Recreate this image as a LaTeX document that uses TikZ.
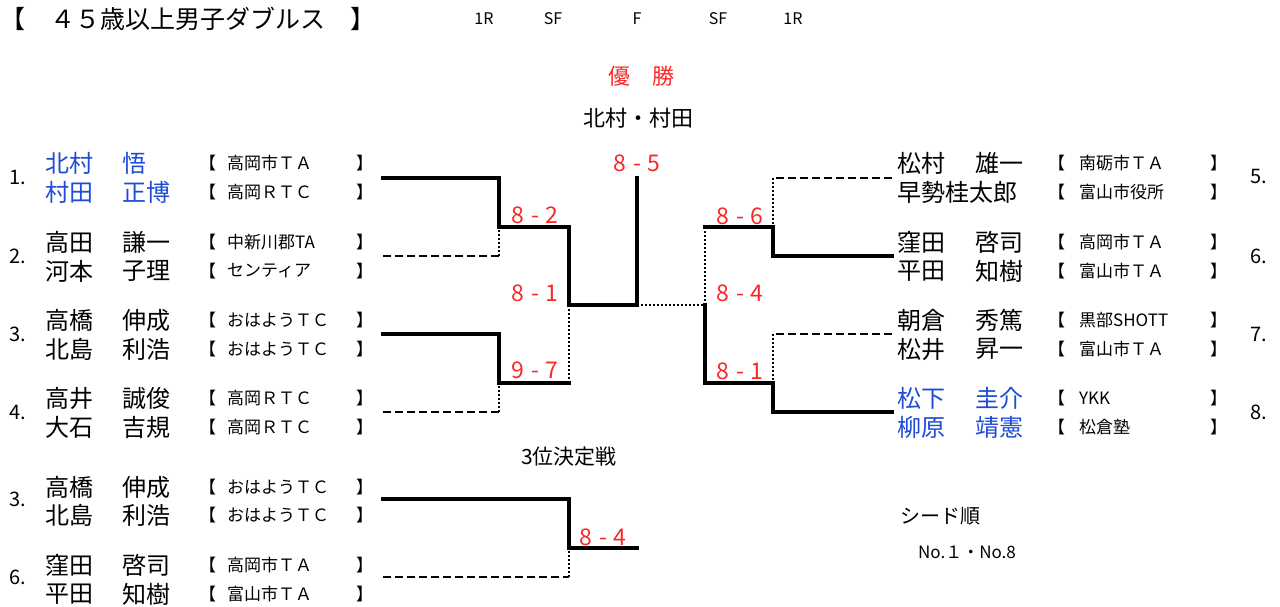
\documentclass[tikz,border=0pt]{standalone}
\usepackage{fontspec}
\setmainfont{Noto Sans CJK JP}
\definecolor{nameblue}{RGB}{30,75,215}
\definecolor{scorered}{RGB}{250,40,40}
\tikzset{
  nm/.style={anchor=west, inner sep=0pt, font=\fontsize{24}{24}\selectfont},
  tm/.style={anchor=west, inner sep=0pt, font=\fontsize{17}{17}\selectfont},
  sd/.style={inner sep=0pt, font=\fontsize{20}{20}\selectfont},
  hd/.style={inner sep=0pt, font=\fontsize{16}{16}\selectfont},
  sc/.style={inner sep=0pt, text=scorered, font=\fontsize{23}{23}\selectfont},
  win/.style={line width=4.6pt, line cap=rect},
  lose/.style={line width=2.2pt, dash pattern=on 8pt off 4pt},
  link/.style={line width=2.2pt, dash pattern=on 2pt off 2pt},
}
\newcommand\scr[2]{#1\hspace{7pt}-\hspace{7pt}#2}
\newcommand\rowL[6]{%
  \node[nm,text=#6] (#1f) at (45,#2) {#3};
  \node[nm,text=#6] (#1g) at (122,#2) {#4};
  \node[tm] (#1o) at (199,#2) {【};
  \node[tm] (#1t) at (227,#2) {#5};
  \node[tm] (#1c) at (356,#2) {】};
}
\newcommand\rowR[6]{%
  \node[nm,text=#6] (#1f) at (897,#2) {#3};
  \node[nm,text=#6] (#1g) at (975,#2) {#4};
  \node[tm] (#1o) at (1048,#2) {【};
  \node[tm] (#1t) at (1079,#2) {#5};
  \node[tm] (#1c) at (1210,#2) {】};
}
\begin{document}
\begin{tikzpicture}[x=1pt,y=-1pt]
\useasboundingbox[fill=white] (0,0) rectangle (1280,607);
% header
\node[anchor=west,inner sep=0pt,font=\fontsize{25}{25}\selectfont] (title) at (0,19) {【　４５歳以上男子ダブルス　】};
\node[hd] (h1) at (484,19) {1R};
\node[hd] (h2) at (553,19) {SF};
\node[hd] (h3) at (637,19) {F};
\node[hd] (h4) at (718,19) {SF};
\node[hd] (h5) at (793,19) {1R};
\node[inner sep=0pt,text=scorered,font=\fontsize{22}{22}\selectfont] (yusho) at (641,76) {優　勝};
\node[inner sep=0pt,font=\fontsize{22}{22}\selectfont] (champ) at (638,118) {北村・村田};
% left entries
\node[sd] (s1) at (18,178) {1.};
\rowL{a1}{163}{北村}{悟}{高岡市ＴＡ}{nameblue}
\rowL{a2}{192}{村田}{正博}{高岡ＲＴＣ}{nameblue}
\node[sd] (s2) at (18,256) {2.};
\rowL{b1}{242}{高田}{謙一}{中新川郡TA}{black}
\rowL{b2}{271}{河本}{子理}{センティア}{black}
\node[sd] (s3) at (18,334) {3.};
\rowL{c1}{320}{高橋}{伸成}{おはようＴＣ}{black}
\rowL{c2}{349}{北島}{利浩}{おはようＴＣ}{black}
\node[sd] (s4) at (18,412) {4.};
\rowL{d1}{398}{高井}{誠俊}{高岡ＲＴＣ}{black}
\rowL{d2}{427}{大石}{吉規}{高岡ＲＴＣ}{black}
\node[sd] (s3b) at (18,499) {3.};
\rowL{e1}{487}{高橋}{伸成}{おはようＴＣ}{black}
\rowL{e2}{515}{北島}{利浩}{おはようＴＣ}{black}
\node[sd] (s6b) at (18,577) {6.};
\rowL{f1}{565}{窪田}{啓司}{高岡市ＴＡ}{black}
\rowL{f2}{594}{平田}{知樹}{富山市ＴＡ}{black}
% right entries
\node[sd] (s5) at (1259,176) {5.};
\rowR{g1}{163}{松村}{雄一}{南砺市ＴＡ}{black}
\node[nm] (g2f) at (897,192) {早勢桂太郎};
\node[tm] (g2o) at (1048,192) {【};
\node[tm] (g2t) at (1079,192) {富山市役所};
\node[tm] (g2c) at (1210,192) {】};
\node[sd] (s6) at (1259,256) {6.};
\rowR{h1}{242}{窪田}{啓司}{高岡市ＴＡ}{black}
\rowR{h2}{271}{平田}{知樹}{富山市ＴＡ}{black}
\node[sd] (s7) at (1259,334) {7.};
\rowR{i1}{320}{朝倉}{秀篤}{黒部SHOTT}{black}
\rowR{i2}{349}{松井}{昇一}{富山市ＴＡ}{black}
\node[sd] (s8) at (1259,412) {8.};
\rowR{j1}{398}{松下}{圭介}{YKK}{nameblue}
\rowR{j2}{427}{柳原}{靖憲}{松倉塾}{nameblue}
% labels
\node[inner sep=0pt,font=\fontsize{21}{21}\selectfont] (third) at (569,457) {3位決定戦};
\node[inner sep=0pt,font=\fontsize{20}{20}\selectfont] (seedhd) at (940,516) {シード順};
\node[inner sep=0pt,font=\fontsize{17}{17}\selectfont] (seeds) at (967,552) {No.１・No.8};
% scores
\node[sc] (sc1) at (535,215) {\scr{8}{2}};
\node[sc] (sc2) at (535,293) {\scr{8}{1}};
\node[sc] (sc3) at (535,370) {\scr{9}{7}};
\node[sc] (sc4) at (637,163) {\scr{8}{5}};
\node[sc] (sc5) at (740,216) {\scr{8}{6}};
\node[sc] (sc6) at (740,293) {\scr{8}{4}};
\node[sc] (sc7) at (740,371) {\scr{8}{1}};
\node[sc] (sc8) at (603,537) {\scr{8}{4}};
% bracket coordinates (left)
\coordinate (L1) at (383,178); \coordinate (L1k) at (499,178);
\coordinate (L2) at (383,256); \coordinate (L2k) at (499,256);
\coordinate (M1) at (499,227); \coordinate (M1e) at (569,227);
\coordinate (L3) at (383,334); \coordinate (L3k) at (499,334);
\coordinate (L4) at (383,412); \coordinate (L4k) at (499,412);
\coordinate (M2) at (499,383); \coordinate (M2e) at (569,383);
\coordinate (S1) at (569,305); \coordinate (F1) at (637,305);
\coordinate (FT) at (637,178);
% right
\coordinate (R5) at (892,178); \coordinate (R5k) at (773,178);
\coordinate (R6) at (892,256); \coordinate (R6k) at (773,256);
\coordinate (N1) at (773,227); \coordinate (N1e) at (705,227);
\coordinate (R7) at (892,334); \coordinate (R7k) at (773,334);
\coordinate (R8) at (892,412); \coordinate (R8k) at (773,412);
\coordinate (N2) at (773,383); \coordinate (N2e) at (705,383);
\coordinate (S2) at (705,305);
% third place
\coordinate (T1) at (383,499); \coordinate (T1k) at (569,499);
\coordinate (T2) at (383,577); \coordinate (T2k) at (569,577);
\coordinate (T3) at (569,548); \coordinate (T3e) at (637,548);
% draw left
\draw[win] (L1) -- (L1k) -- (M1) -- (M1e) -- (S1) -- (F1) -- (FT);
\draw[lose] (L2) -- (L2k);
\draw[link] (L2k) -- (M1);
\draw[win] (L3) -- (L3k) -- (M2) -- (M2e);
\draw[lose] (L4) -- (L4k);
\draw[link] (L4k) -- (M2);
\draw[link] (M2e) -- (S1);
\draw[link] (F1) -- (S2);
% draw right
\draw[lose] (R5) -- (R5k);
\draw[link] (R5k) -- (N1);
\draw[win] (R6) -- (R6k) -- (N1) -- (N1e);
\draw[link] (N1e) -- (S2);
\draw[lose] (R7) -- (R7k);
\draw[link] (R7k) -- (N2);
\draw[win] (S2) -- (N2e) -- (N2) -- (R8k) -- (R8);
% third place
\draw[win] (T1) -- (T1k) -- (T3) -- (T3e);
\draw[lose] (T2) -- (T2k);
\draw[link] (T2k) -- (T3);
\end{tikzpicture}
\end{document}
